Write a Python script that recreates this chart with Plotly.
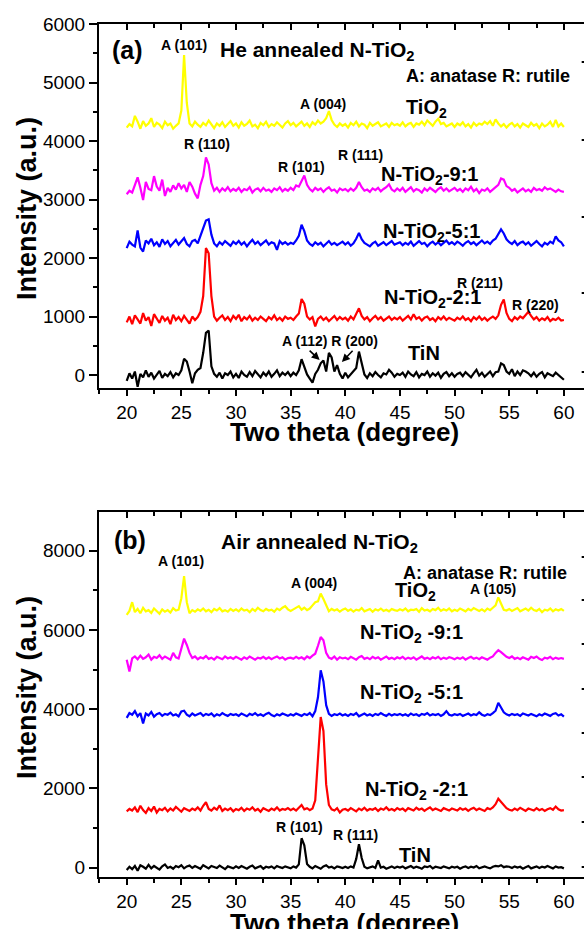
import numpy as np
import plotly.graph_objects as go

# two-theta sampling grid (degrees), 20..60 step 0.25
two_theta = [round(20 + 0.25 * i, 2) for i in range(161)]

# ---------------- Panel (a): He annealed ----------------
a_tio2 = [4230, 4290, 4250, 4430, 4330, 4210, 4340, 4260, 4300, 4390, 4240, 4310, 4280, 4220, 4330, 4270, 4300, 4210, 4260, 4300,
          4520, 5470, 4650, 4300, 4250, 4330, 4280, 4240, 4310, 4270, 4350, 4290, 4220, 4300, 4260, 4320, 4240, 4290, 4340, 4260,
          4300, 4230, 4320, 4260, 4290, 4350, 4250, 4280, 4220, 4310, 4270, 4330, 4240, 4290, 4260, 4320, 4280, 4230, 4300, 4340,
          4270, 4310, 4250, 4290, 4330, 4260, 4300, 4240, 4320, 4280, 4350, 4300, 4330, 4390, 4510, 4360, 4280, 4240, 4300, 4260,
          4290, 4230, 4310, 4270, 4330, 4250, 4300, 4280, 4220, 4310, 4260, 4290, 4320, 4250, 4280, 4300, 4240, 4310, 4270, 4290,
          4260, 4320, 4250, 4290, 4310, 4240, 4300, 4280, 4330, 4270, 4350, 4300, 4260, 4330, 4380, 4290, 4310, 4250, 4280, 4300,
          4240, 4300, 4270, 4320, 4250, 4290, 4230, 4310, 4260, 4300, 4280, 4330, 4290, 4340, 4260, 4370, 4300, 4250, 4290, 4230,
          4280, 4310, 4250, 4290, 4230, 4300, 4270, 4240, 4310, 4260, 4290, 4220, 4300, 4250, 4280, 4330, 4240, 4360, 4250, 4300,
          4240]
a_91 = [3090, 3150, 3120, 3250, 3380, 3200, 2990, 3300, 3180, 3160, 3400, 3220, 3150, 3340, 3060, 3200, 3130, 3240, 3170, 3280,
        3190, 3250, 3130, 3300, 3220, 3100, 3020, 3250, 3400, 3720, 3600, 3280, 3150, 3200, 3130, 3190, 3150, 3210, 3140, 3180,
        3150, 3200, 3130, 3180, 3160, 3210, 3120, 3170, 3190, 3140, 3200, 3150, 3170, 3130, 3190, 3160, 3210, 3140, 3180, 3150,
        3200, 3160, 3240, 3220, 3330, 3410, 3250, 3180, 3140, 3200, 3160, 3190, 3130, 3180, 3210, 3150, 3170, 3120, 3190, 3160,
        3180, 3140, 3190, 3150, 3200, 3300, 3210, 3150, 3170, 3130, 3190, 3160, 3200, 3140, 3180, 3210, 3260, 3170, 3140, 3190,
        3150, 3200, 3130, 3170, 3210, 3140, 3180, 3160, 3120, 3190, 3150, 3200, 3170, 3130, 3180, 3210, 3150, 3190, 3140, 3170,
        3200, 3150, 3180, 3130, 3190, 3160, 3220, 3140, 3180, 3110, 3170, 3150, 3190, 3130, 3170, 3220, 3250, 3360, 3340, 3230,
        3200, 3150, 3180, 3120, 3160, 3190, 3140, 3170, 3130, 3200, 3160, 3180, 3150, 3210, 3170, 3190, 3160, 3130, 3170, 3140,
        3130]
a_51 = [2170, 2280, 2230, 2200, 2470, 2180, 2110, 2300, 2250, 2330, 2220, 2270, 2190, 2320, 2240, 2290, 2200, 2260, 2310, 2230,
        2280, 2340, 2240, 2200, 2290, 2310, 2250, 2380, 2480, 2640, 2660, 2400, 2250, 2200, 2270, 2230, 2290, 2250, 2210, 2280,
        2240, 2290, 2230, 2270, 2200, 2260, 2310, 2240, 2280, 2220, 2260, 2300, 2230, 2270, 2250, 2140, 2290, 2240, 2270, 2230,
        2260, 2240, 2300, 2380, 2570, 2460, 2300, 2240, 2210, 2270, 2230, 2260, 2200, 2250, 2290, 2230, 2260, 2220, 2250, 2280,
        2230, 2270, 2210, 2250, 2330, 2430, 2320, 2260, 2230, 2200, 2250, 2280, 2210, 2240, 2270, 2220, 2260, 2290, 2230, 2250,
        2270, 2220, 2260, 2230, 2280, 2210, 2250, 2290, 2240, 2260, 2200, 2250, 2280, 2230, 2270, 2220, 2260, 2300, 2240, 2270,
        2230, 2280, 2250, 2210, 2260, 2290, 2240, 2270, 2220, 2260, 2300, 2250, 2280, 2240, 2300, 2330, 2400, 2490, 2420, 2320,
        2270, 2240, 2290, 2220, 2260, 2280, 2230, 2270, 2210, 2250, 2290, 2240, 2200, 2260, 2230, 2280, 2250, 2370, 2300, 2270,
        2200]
a_21 = [900, 1000, 870, 1020, 950, 880, 1060, 930, 990, 840, 1040, 960, 890, 1010, 930, 980, 870, 1030, 940, 990,
        920, 1010, 950, 880, 1000, 940, 990, 1080, 1350, 2170, 2080, 1350, 1000, 930, 980, 1020, 940, 990, 920, 1010,
        960, 1030, 920, 990, 950, 1010, 930, 980, 940, 1000, 960, 920, 990, 950, 1020, 940, 980, 930, 1000, 960,
        980, 940, 1000, 1050, 1300, 1220, 1000, 950, 990, 830, 960, 1000, 940, 980, 920, 970, 1010, 940, 990, 950,
        980, 930, 1000, 950, 1060, 1140, 1010, 950, 990, 920, 970, 1010, 950, 990, 930, 970, 1000, 940, 980, 950,
        990, 930, 970, 1010, 950, 1040, 960, 990, 930, 980, 1000, 940, 970, 920, 990, 950, 1000, 940, 980, 960,
        930, 980, 950, 1000, 940, 970, 920, 990, 950, 1000, 940, 980, 930, 970, 1000, 960, 1020, 1200, 1290, 1060,
        960, 920, 990, 950, 1000, 970, 1020, 1080, 1010, 950, 990, 930, 970, 940, 990, 920, 960, 940, 980, 930,
        940]
a_tin = [-100, 30, -60, 60, -200, 20, -40, 80, -30, 40, -60, 10, 70, -50, 20, -20, 50, -40, 30, 0,
         80, 280, 230, 60, -140, 30, 90, 120, 380, 720, 760, 150, 20, -30, 40, -60, 30, 0, 60, -40,
         20, -50, 60, 0, -30, 50, -20, 70, 10, -40, 40, -10, 60, -30, 20, 80, -20, 40, 0, 50,
         -20, 40, 0, 80, 270, 150, 10, -60, -130, 20, 90, 200, 250, 60, 380, 300, 60, 170, 20, -60,
         40, -40, 20, 60, 120, 400, 220, 10, -50, 30, -20, 50, 0, -40, 30, 10, 90, 40, -30, 20,
         0, 40, -30, 60, 10, -20, 50, -40, 20, 0, 60, -30, 30, -10, 40, -50, 20, 50, -20, 30,
         -30, 20, 40, -20, 50, 0, -40, 30, 90, -10, 40, -30, 20, 60, -20, 50, 60, 200, 170, 60,
         20, 100, -20, 60, 0, 80, 60, 30, -20, 40, -30, 20, 50, -40, 30, 10, -20, 40, 0, -30,
         -80]

# ---------------- Panel (b): Air annealed ----------------
b_tio2 = [6380, 6480, 6700, 6450, 6530, 6420, 6560, 6470, 6500, 6430, 6540, 6480, 6410, 6520, 6460, 6500, 6440, 6550, 6490, 6510,
          6800, 7360, 6700, 6420, 6500, 6460, 6520, 6480, 6540, 6470, 6510, 6450, 6530, 6490, 6550, 6470, 6500, 6460, 6530, 6480,
          6520, 6470, 6540, 6490, 6510, 6450, 6530, 6480, 6560, 6500, 6470, 6530, 6490, 6510, 6460, 6540, 6500, 6560, 6600, 6520,
          6480, 6520, 6550, 6600, 6510, 6560, 6500, 6540, 6620, 6700, 6720, 6920, 6780, 6600, 6470, 6530, 6490, 6520, 6460, 6510,
          6540, 6480, 6520, 6460, 6510, 6490, 6550, 6470, 6500, 6530, 6460, 6520, 6490, 6540, 6480, 6510, 6470, 6530, 6500, 6480,
          6520, 6490, 6540, 6470, 6510, 6500, 6530, 6460, 6550, 6490, 6510, 6470, 6530, 6500, 6560, 6480, 6520, 6490, 6540, 6470,
          6510, 6480, 6540, 6500, 6470, 6530, 6490, 6550, 6510, 6480, 6520, 6470, 6540, 6500, 6560, 6620, 6820, 6640, 6510, 6490,
          6530, 6480, 6520, 6550, 6470, 6510, 6540, 6490, 6560, 6500, 6480, 6530, 6450, 6510, 6490, 6540, 6470, 6520, 6490, 6530,
          6480]
b_91 = [5250, 4950, 5280, 5330, 5260, 5350, 5270, 5310, 5380, 5250, 5320, 5290, 5360, 5270, 5330, 5300, 5250, 5420, 5310, 5280,
        5500, 5780, 5620, 5420, 5290, 5330, 5260, 5310, 5280, 5340, 5270, 5300, 5250, 5320, 5290, 5260, 5330, 5280, 5310, 5270,
        5320, 5280, 5250, 5310, 5270, 5330, 5290, 5250, 5300, 5280, 5320, 5270, 5310, 5260, 5300, 5330, 5280, 5310, 5250, 5290,
        5300, 5270, 5320, 5280, 5310, 5260, 5330, 5290, 5350, 5400, 5600, 5820, 5740, 5420, 5300, 5270, 5330, 5250, 5310, 5280,
        5300, 5260, 5320, 5280, 5250, 5310, 5340, 5270, 5300, 5260, 5320, 5280, 5310, 5250, 5290, 5330, 5270, 5300, 5260, 5310,
        5280, 5320, 5260, 5300, 5270, 5310, 5250, 5290, 5330, 5270, 5300, 5260, 5310, 5280, 5320, 5260, 5300, 5270, 5310, 5290,
        5260, 5300, 5270, 5310, 5250, 5290, 5320, 5270, 5300, 5260, 5310, 5280, 5250, 5300, 5330, 5420, 5490, 5440, 5380, 5320,
        5290, 5330, 5270, 5300, 5260, 5310, 5280, 5250, 5320, 5290, 5330, 5270, 5240, 5300, 5280, 5320, 5260, 5300, 5270, 5290,
        5270]
b_51 = [3780, 3900, 3860, 3950, 3820, 3900, 3640, 3890, 3840, 3930, 3810, 3870, 3900, 3830, 3880, 3860, 3910, 3840, 3870, 3820,
        3940, 3960, 3860, 3820, 3890, 3840, 3870, 3900, 3830, 3880, 3850, 3890, 3820, 3870, 3840, 3900, 3860, 3830, 3880, 3850,
        3870, 3830, 3890, 3860, 3820, 3880, 3850, 3900, 3840, 3870, 3830, 3880, 3910, 3850, 3820, 3870, 3840, 3890, 3860, 3830,
        3870, 3840, 3890, 3860, 3830, 3880, 3850, 3900, 3820, 3950, 4300, 4980, 4700, 4100, 3880, 3830, 3870, 3850, 3890, 3840,
        3870, 3830, 3880, 3850, 3900, 3820, 3860, 3890, 3840, 3870, 3830, 3880, 3850, 3900, 3860, 3830, 3880, 3840, 3870, 3850,
        3880, 3840, 3870, 3830, 3890, 3850, 3870, 3830, 3880, 3860, 3900, 3840, 3870, 3850, 3880, 3830, 3870, 3950, 3860, 3840,
        3870, 3850, 3880, 3830, 3860, 3890, 3840, 3870, 3850, 3920, 3860, 3830, 3870, 3850, 3900, 3960, 4160, 4020, 3920, 3870,
        3840, 3880, 3850, 3870, 3830, 3890, 3860, 3840, 3880, 3850, 3820, 3870, 3840, 3890, 3850, 3830, 3880, 3900, 3840, 3870,
        3810]
b_21 = [1420, 1480, 1440, 1520, 1400, 1560, 1450, 1380, 1500, 1430, 1540, 1390, 1480, 1450, 1510, 1420, 1490, 1440, 1530, 1460,
        1410, 1500, 1460, 1430, 1490, 1450, 1520, 1440, 1560, 1650, 1480, 1440, 1510, 1460, 1570, 1430, 1490, 1450, 1500, 1420,
        1480, 1450, 1510, 1430, 1490, 1460, 1520, 1440, 1480, 1410, 1500, 1460, 1430, 1490, 1450, 1520, 1440, 1480, 1460, 1500,
        1450, 1490, 1440, 1510, 1580, 1470, 1500, 1450, 1490, 1700, 2700, 3800, 3450, 2100, 1580, 1470, 1440, 1500, 1390, 1460,
        1480, 1440, 1500, 1460, 1420, 1490, 1450, 1510, 1440, 1480, 1460, 1500, 1430, 1490, 1460, 1520, 1450, 1480, 1440, 1500,
        1460, 1490, 1430, 1500, 1470, 1440, 1510, 1460, 1490, 1430, 1480, 1520, 1450, 1490, 1460, 1430, 1500, 1470, 1440, 1490,
        1470, 1440, 1500, 1460, 1490, 1430, 1480, 1510, 1450, 1490, 1460, 1430, 1500, 1470, 1520, 1600, 1740, 1660, 1560, 1500,
        1460, 1440, 1490, 1450, 1510, 1460, 1430, 1490, 1470, 1440, 1500, 1450, 1480, 1430, 1470, 1500, 1460, 1540, 1470, 1440,
        1450]
b_tin = [-60, 20, -40, 40, -80, 60, 20, -30, 70, -20, 40, 0, -50, 30, 80, -10, 20, -30, 40, 10,
         60, -20, 30, 50, -10, 40, 0, -30, 60, 10, -20, 40, 20, -10, 50, 0, -40, 30, 10, -20,
         30, -10, 40, 0, -30, 20, 50, -20, 10, 40, -30, 20, 0, 30, -20, 40, 10, -10, 30, 0,
         -20, 30, 0, 80, 740, 560, 90, 20, -20, 40, 10, -30, 30, 60, 0, 20, -20, 30, 10, -10,
         20, -10, 30, 0, 220, 590, 240, 20, -20, 10, 30, -10, 180, 0, 20, -30, 10, 30, -10, 20,
         0, 30, -20, 10, 40, -10, 20, 0, -30, 30, 10, 40, -20, 20, 0, -10, 30, 10, -20, 20,
         0, 20, -30, 10, 30, -10, 20, 0, 40, -20, 10, 30, 0, -20, 20, 40, 30, 60, 10, 30,
         20, -10, 30, 0, 20, -30, 10, 40, -20, 0, 30, -10, 20, 0, 40, 10, -20, 30, 0, 10,
         -20]

colors = {"tio2": "#FFFF00", "91": "#FF00FF", "51": "#0000FF", "21": "#FF0000", "tin": "#000000"}

FONT = "Arial, Liberation Sans, sans-serif"

fig = go.Figure()

panel_a = [("tin", a_tin), ("21", a_21), ("51", a_51), ("91", a_91), ("tio2", a_tio2)]
panel_b = [("tin", b_tin), ("21", b_21), ("51", b_51), ("91", b_91), ("tio2", b_tio2)]

for key, vals in panel_a:
    fig.add_trace(go.Scatter(x=two_theta[:len(vals)], y=vals, mode="lines",
                             line=dict(color=colors[key], width=2.2),
                             xaxis="x", yaxis="y", showlegend=False))
for key, vals in panel_b:
    fig.add_trace(go.Scatter(x=two_theta[:len(vals)], y=vals, mode="lines",
                             line=dict(color=colors[key], width=2.2),
                             xaxis="x2", yaxis="y2", showlegend=False))

XR = [17.466, 61.84]
YA = [-227, 6000]
YB = [-238, 8986]
DOM_A = [0.5729, 1.0]
DOM_B = [0.0, 0.4283]

axis_common = dict(showgrid=False, zeroline=False, showline=True, linecolor="black", linewidth=2,
                   tickcolor="black", tickwidth=2, tickfont=dict(family=FONT, size=19, color="black"))

xbottom = dict(axis_common, range=XR, ticks="outside", ticklen=6, tickmode="array",
               tickvals=[20, 25, 30, 35, 40, 45, 50, 55, 60],
               minor=dict(tickvals=[17.5, 22.5, 27.5, 32.5, 37.5, 42.5, 47.5, 52.5, 57.5],
                          ticks="outside", ticklen=4, tickwidth=2, tickcolor="black"))
xtop = dict(showgrid=False, zeroline=False, showline=True, linecolor="black", linewidth=2,
            range=XR, ticks="inside", ticklen=6, tickwidth=2, tickcolor="black",
            tickmode="array", tickvals=[20, 25, 30, 35, 40, 45, 50, 55, 60],
            minor=dict(tickvals=[22.5, 27.5, 32.5, 37.5, 42.5, 47.5, 52.5, 57.5],
                       ticks="inside", ticklen=4, tickwidth=2, tickcolor="black"),
            showticklabels=False, side="top")

fig.update_layout(
    width=584, height=929,
    margin=dict(l=99, r=0, t=24, b=52),
    paper_bgcolor="white", plot_bgcolor="white",
    showlegend=False,
    xaxis=dict(xbottom, anchor="y", domain=[0, 1]),
    xaxis2=dict(xbottom, anchor="y2", domain=[0, 1]),
    xaxis3=dict(xtop, overlaying="x", anchor="y"),
    xaxis4=dict(xtop, overlaying="x2", anchor="y2"),
    yaxis=dict(axis_common, range=YA, domain=DOM_A, anchor="x", ticks="outside", ticklen=8,
               tickmode="array", tickvals=[0, 1000, 2000, 3000, 4000, 5000, 6000],
               minor=dict(tickvals=[500, 1500, 2500, 3500, 4500, 5500], ticks="outside",
                          ticklen=4, tickwidth=2, tickcolor="black")),
    yaxis2=dict(axis_common, range=YB, domain=DOM_B, anchor="x2", ticks="outside", ticklen=8,
                tickmode="array", tickvals=[0, 2000, 4000, 6000, 8000],
                minor=dict(tickvals=[1000, 3000, 5000, 7000], ticks="outside",
                           ticklen=4, tickwidth=2, tickcolor="black")),
)

# dummy traces so the top overlay axes render
fig.add_trace(go.Scatter(x=[None], y=[None], xaxis="x3", yaxis="y", showlegend=False))
fig.add_trace(go.Scatter(x=[None], y=[None], xaxis="x4", yaxis="y2", showlegend=False))

ann = []


def txt(x, y, text, size, xr, yr, anchor="center"):
    ann.append(dict(x=x, y=y, xref=xr, yref=yr, text="<b>" + text + "</b>", showarrow=False,
                    xanchor=anchor, yanchor="middle",
                    font=dict(family=FONT, size=size, color="black")))


# panel (a)
txt(18.47, 5555, "(a)", 25, "x", "y", "left")
txt(25.28, 5641, "A (101)", 14, "x", "y")
txt(28.37, 5540, "He annealed N-TiO<sub>2</sub>", 21, "x", "y", "left")
txt(45.4, 5111, "A: anatase R: rutile", 18, "x", "y", "left")
txt(37.96, 4632, "A (004)", 14, "x", "y")
txt(45.4, 4560, "TiO<sub>2</sub>", 20, "x", "y", "left")
txt(27.32, 3949, "R (110)", 14, "x", "y")
txt(36.0, 3561, "R (101)", 14, "x", "y")
txt(41.37, 3761, "R (111)", 14, "x", "y")
txt(43.08, 3416, "N-TiO<sub>2</sub>-9:1", 20, "x", "y", "left")
txt(43.23, 2430, "N-TiO<sub>2</sub>-5:1", 20, "x", "y", "left")
txt(43.33, 1308, "N-TiO<sub>2</sub>-2:1", 20, "x", "y", "left")
txt(52.36, 1578, "R (211)", 14, "x", "y")
txt(57.39, 1197, "R (220)", 14, "x", "y")
txt(38.56, 587, "A (112) R (200)", 14, "x", "y")
txt(45.55, 370, "TiN", 20, "x", "y", "left")

# arrows in panel (a)
ann.append(dict(x=37.65, y=256, ax=36.6, ay=440, xref="x", yref="y", axref="x", ayref="y",
                text="", showarrow=True, arrowhead=2, arrowsize=1, arrowwidth=1.6, arrowcolor="black"))
ann.append(dict(x=39.69, y=222, ax=40.8, ay=440, xref="x", yref="y", axref="x", ayref="y",
                text="", showarrow=True, arrowhead=2, arrowsize=1, arrowwidth=1.6, arrowcolor="black"))

# panel (b)
txt(18.63, 8271, "(b)", 25, "x2", "y2", "left")
txt(28.44, 8200, "Air annealed N-TiO<sub>2</sub>", 21, "x2", "y2", "left")
txt(45.14, 7429, "A: anatase R: rutile", 18, "x2", "y2", "left")
txt(24.93, 7740, "A (101)", 14, "x2", "y2")
txt(37.12, 7177, "A (004)", 14, "x2", "y2")
txt(44.36, 6970, "TiO<sub>2</sub>", 20, "x2", "y2", "left")
txt(53.52, 7033, "A (105)", 14, "x2", "y2")
txt(41.19, 5920, "N-TiO<sub>2</sub> -9:1", 20, "x2", "y2", "left")
txt(41.19, 4400, "N-TiO<sub>2</sub> -5:1", 20, "x2", "y2", "left")
txt(41.62, 1935, "N-TiO<sub>2</sub> -2:1", 20, "x2", "y2", "left")
txt(35.8, 1026, "R (101)", 14, "x2", "y2")
txt(40.95, 816, "R (111)", 14, "x2", "y2")
txt(44.7, 311, "TiN", 20, "x2", "y2", "left")

# axis titles
for yc in (0.7843, 0.2227):
    ann.append(dict(x=-0.1485, y=yc, xref="paper", yref="paper", text="<b>Intensity (a.u.)</b>",
                    textangle=-90, showarrow=False, xanchor="center", yanchor="middle",
                    font=dict(family=FONT, size=27, color="black")))
for yc in (0.5217, -0.0535):
    ann.append(dict(x=0.507, y=yc, xref="paper", yref="paper", text="<b>Two theta (degree)</b>",
                    showarrow=False, xanchor="center", yanchor="middle",
                    font=dict(family=FONT, size=26, color="black")))

fig.update_layout(annotations=ann)

# small tick marks of the (cropped) right-hand frame
shapes = []
for py in [62, 140, 217, 293, 372, 557, 600, 644, 689, 733, 777, 822, 867]:
    yp = (877 - py) / 853
    shapes.append(dict(type="line", xref="paper", yref="paper", x0=0.9952, x1=1.0, y0=yp, y1=yp,
                       line=dict(color="black", width=2)))
fig.update_layout(shapes=shapes)

fig.write_html("out.html")
